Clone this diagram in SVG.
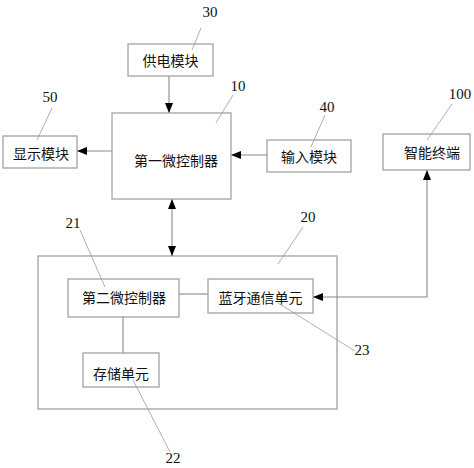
<svg xmlns="http://www.w3.org/2000/svg" width="474" height="468" viewBox="0 0 474 468">
<style>
.box{fill:#fff;stroke:#9a9a9a;stroke-width:1.2}
.outer{fill:none;stroke:#9a9a9a;stroke-width:1.2}
.ln{fill:none;stroke:#8a8a8a;stroke-width:1.1}
.ld{fill:none;stroke:#9a9a9a;stroke-width:0.8}
.t{font-family:"Noto Sans CJK SC","Noto Sans",sans-serif;font-size:14px;fill:#111;text-anchor:middle;dominant-baseline:central}
.n{font-family:"Liberation Serif",serif;font-size:15px;fill:#111;text-anchor:middle;dominant-baseline:central}
</style>
<defs>
<marker id="ah" viewBox="0 0 10 8" refX="10" refY="4" markerWidth="10" markerHeight="8" markerUnits="userSpaceOnUse" orient="auto-start-reverse">
<path d="M0,0L10,4L0,8z" fill="#000"/>
</marker>
</defs>
<rect width="474" height="468" fill="#fff"/>
<g id="n20">
<rect class="outer" x="38" y="256" width="299" height="153"/>
<line class="ld" x1="278" y1="264" x2="303" y2="227"/>
<text class="n" x="308" y="217">20</text>
</g>
<g id="connectors">
<line class="ln" x1="169" y1="76" x2="169" y2="113" marker-end="url(#ah)"/>
<line class="ln" x1="112" y1="151" x2="77" y2="151" marker-end="url(#ah)"/>
<line class="ln" x1="267" y1="155" x2="231" y2="155" marker-end="url(#ah)"/>
<line class="ln" x1="172" y1="199" x2="172" y2="256" marker-start="url(#ah)" marker-end="url(#ah)"/>
<line class="ln" x1="179" y1="294" x2="208" y2="294"/>
<line class="ln" x1="123" y1="317" x2="123" y2="353"/>
<polyline class="ln" points="313,297 427,297 427,170" marker-start="url(#ah)" marker-end="url(#ah)"/>
</g>
<g id="n30">
<rect class="box" x="128" y="44" width="85" height="32"/>
<text class="t" x="170.5" y="60">供电模块</text>
<line class="ld" x1="192" y1="50" x2="201" y2="28"/>
<text class="n" x="210" y="12">30</text>
</g>
<g id="n10">
<rect class="box" x="112" y="113" width="119" height="86"/>
<text class="t" x="176" y="160">第一微控制器</text>
<line class="ld" x1="216" y1="123" x2="233" y2="95"/>
<text class="n" x="238" y="86">10</text>
</g>
<g id="n50">
<rect class="box" x="3" y="136" width="74" height="32"/>
<text class="t" x="41" y="153">显示模块</text>
<line class="ld" x1="37" y1="140" x2="52" y2="108"/>
<text class="n" x="50" y="97">50</text>
</g>
<g id="n40">
<rect class="box" x="267" y="140" width="84" height="32"/>
<text class="t" x="309" y="156">输入模块</text>
<line class="ld" x1="311" y1="147" x2="325" y2="115"/>
<text class="n" x="327" y="107">40</text>
</g>
<g id="n100">
<rect class="box" x="383" y="134" width="87" height="36"/>
<text class="t" x="432" y="152">智能终端</text>
<line class="ld" x1="427" y1="140" x2="452" y2="104"/>
<text class="n" x="460" y="94">100</text>
</g>
<g id="n21">
<rect class="box" x="68" y="279" width="111" height="38"/>
<text class="t" x="124" y="297">第二微控制器</text>
<line class="ld" x1="105" y1="287" x2="80" y2="230"/>
<text class="n" x="73" y="223">21</text>
</g>
<g id="n23">
<rect class="box" x="208" y="279" width="105" height="34"/>
<text class="t" x="260.5" y="297">蓝牙通信单元</text>
<line class="ld" x1="278" y1="303" x2="355" y2="351"/>
<text class="n" x="362" y="350">23</text>
</g>
<g id="n22">
<rect class="box" x="83" y="353" width="76" height="34"/>
<text class="t" x="121" y="373">存储单元</text>
<line class="ld" x1="133" y1="380" x2="170" y2="452"/>
<text class="n" x="173" y="458">22</text>
</g>
</svg>
